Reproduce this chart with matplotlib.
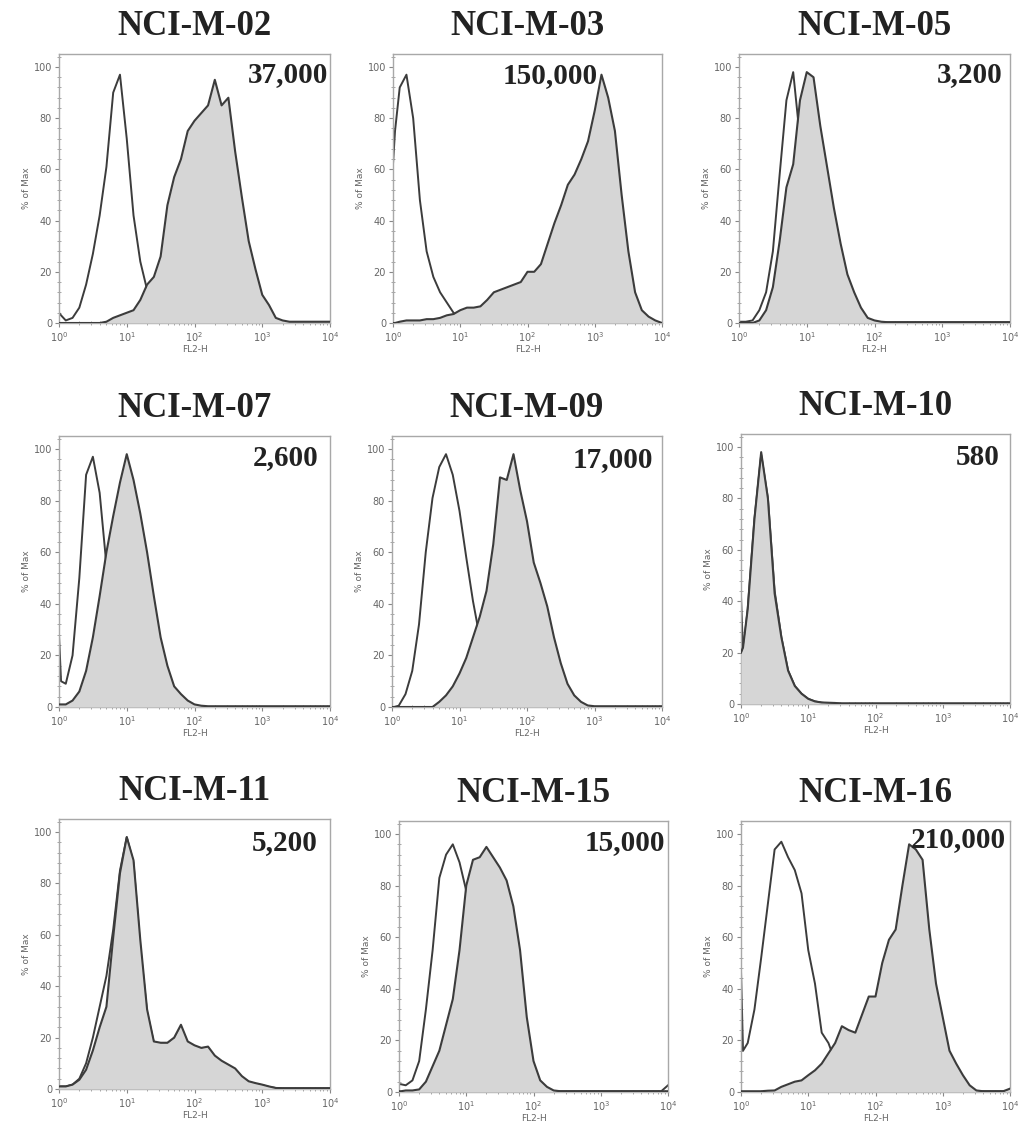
import numpy as np
import matplotlib
matplotlib.use("Agg")
import matplotlib.pyplot as plt
from matplotlib.ticker import LogLocator, AutoMinorLocator, NullFormatter

# channel positions in decades (log10 FL2-H)
decades = np.r_[0.0, 0.03, np.arange(1, 41) / 10]

samples = ["NCI-M-02", "NCI-M-03", "NCI-M-05",
           "NCI-M-07", "NCI-M-09", "NCI-M-10",
           "NCI-M-11", "NCI-M-15", "NCI-M-16"]
counts = ["37,000", "150,000", "3,200",
          "2,600", "17,000", "580",
          "5,200", "15,000", "210,000"]

# open histograms (isotype control), % of max
ctrl_02 = [4, 3, 1, 2, 6, 15, 27, 42, 61, 90, 97, 72, 42, 24, 13, 6, 2, 1,
           0, 0, 0, 0, 0, 0, 0, 0, 0, 0, 0, 0, 0, 0, 0, 0, 0, 0, 0, 0, 0, 0, 0, 0]
ctrl_03 = [62, 75, 92, 97, 80, 48, 28, 18, 12, 8, 4, 2, 1, 0.5,
           0, 0, 0, 0, 0, 0, 0, 0, 0, 0, 0, 0, 0, 0, 0, 0, 0, 0, 0, 0, 0, 0, 0, 0, 0, 0, 0, 0]
ctrl_05 = [0.5, 0.5, 0.5, 1, 5, 12, 28, 58, 87, 98, 72, 45, 25, 12, 5, 2, 0.5,
           0.3, 0.3, 0.3, 0.3, 0.3, 0.3, 0.3, 0.3, 0.3, 0.3, 0.3, 0.3, 0.3, 0.3, 0.3,
           0.3, 0.3, 0.3, 0.3, 0.3, 0.3, 0.3, 0.3, 0.3, 0.3]
ctrl_07 = [28, 10, 9, 20, 50, 90, 97, 83, 55, 35, 20, 10, 5, 2, 1,
           0, 0, 0, 0, 0, 0, 0, 0, 0, 0, 0, 0, 0, 0, 0, 0, 0, 0, 0, 0, 0, 0, 0, 0, 0, 0, 0]
ctrl_09 = [0, 0, 0.5, 5, 14, 32, 60, 81, 93, 98, 90, 76, 58, 41, 27, 15, 8, 4, 2, 1,
           0, 0, 0, 0, 0, 0, 0, 0, 0, 0, 0, 0, 0, 0, 0, 0, 0, 0, 0, 0, 0, 0]
ctrl_10 = [42, 20, 37, 72, 97, 80, 44, 26, 13, 7, 4, 2, 1, 0.5,
           0.2, 0.2, 0.2, 0.2, 0.2, 0.2, 0.2, 0.2, 0.2, 0.2, 0.2, 0.2, 0.2, 0.2,
           0.2, 0.2, 0.2, 0.2, 0.2, 0.2, 0.2, 0.2, 0.2, 0.2, 0.2, 0.2, 0.2, 0.2]
ctrl_11 = [1, 1, 1, 1.7, 4, 10, 20, 32, 44, 62, 85, 98, 88, 55, 30, 18, 17.5, 17.5,
           19, 24, 18, 16.5, 15.5, 16, 12.5, 10.5, 9, 7.5, 4.5, 2.8, 2, 1.5, 0.8, 0.4,
           0.3, 0.3, 0.3, 0.3, 0.3, 0.3, 0.3, 0.3]
ctrl_15 = [3, 3, 2.6, 4.5, 12, 32, 55, 83, 92, 96, 89, 78, 55, 32, 15, 6, 2, 0.5,
           0.3, 0.3, 0.3, 0.3, 0.3, 0.3, 0.3, 0.3, 0.3, 0.3, 0.3, 0.3, 0.3, 0.3,
           0.3, 0.3, 0.3, 0.3, 0.3, 0.3, 0.3, 0.3, 0.3, 2.6]
ctrl_16 = [47, 16, 19, 32, 52, 73, 94, 97, 91, 86, 77, 55, 42, 23, 19, 12, 7, 4, 2, 1, 0.5,
           0.3, 0.3, 0.3, 0.3, 0.3, 0.3, 0.3, 0.3, 0.3, 0.3, 0.3, 0.3, 0.3, 0.3, 0.3,
           0.3, 0.3, 0.3, 0.3, 0.3, 0.3]

# filled histograms (stained), % of max
stain_02 = [0, 0, 0, 0, 0, 0, 0, 0, 0.5, 2, 3, 4, 5, 9, 15, 18, 26, 46, 57, 64, 75, 79,
            82, 85, 95, 85, 88, 67, 49, 32, 21, 11, 7, 2, 1,
            0.5, 0.5, 0.5, 0.5, 0.5, 0.5, 0.5]
stain_03 = [0, 0, 0.5, 1, 1, 1, 1.5, 1.5, 2, 3, 3.5, 5, 6, 6, 6.5, 9, 12, 13, 14, 15, 16,
            20, 20, 23, 31, 39, 46, 54, 58, 64, 71, 83, 97, 88, 75, 50, 28, 12, 5, 2.5, 1, 0]
stain_05 = [0, 0, 0, 0, 1, 5, 14, 32, 53, 62, 87, 98, 96, 77, 61, 45, 31, 19, 12, 6, 2, 1, 0.5,
            0.3, 0.3, 0.3, 0.3, 0.3, 0.3, 0.3, 0.3, 0.3, 0.3, 0.3, 0.3, 0.3, 0.3,
            0.3, 0.3, 0.3, 0.3, 0.3]
stain_07 = [1, 1, 1, 2.5, 6, 14, 27, 43, 60, 74, 87, 98, 88, 75, 60, 43, 27, 16, 8, 5, 2.5, 1, 0.5,
            0.3, 0.3, 0.3, 0.3, 0.3, 0.3, 0.3, 0.3, 0.3, 0.3, 0.3, 0.3, 0.3, 0.3,
            0.3, 0.3, 0.3, 0.3, 0.3]
stain_09 = [0, 0, 0, 0, 0, 0, 0, 0, 2, 4.5, 8, 13, 19, 27, 35, 45, 63, 89, 88, 98, 84, 72,
            56, 48, 39, 27, 17, 9, 4.5, 2, 0.6,
            0.3, 0.3, 0.3, 0.3, 0.3, 0.3, 0.3, 0.3, 0.3, 0.3, 0.3]
stain_10 = [20, 22, 37, 72, 98, 80, 43, 26, 13, 7, 4, 2, 1, 0.6, 0.5, 0.4,
            0.2, 0.2, 0.2, 0.2, 0.2, 0.2, 0.2, 0.2, 0.2, 0.2, 0.2, 0.2, 0.2,
            0.2, 0.2, 0.2, 0.2, 0.2, 0.2, 0.2, 0.2, 0.2, 0.2, 0.2, 0.2, 0.2]
stain_11 = [1, 1, 1, 1.7, 3.6, 7.5, 15, 24, 32, 59, 84, 98, 89, 58, 31, 18.5, 18, 18,
            20, 25, 18.5, 17, 16, 16.5, 13, 11, 9.5, 8, 5, 3, 2.3, 1.7, 1, 0.4,
            0.3, 0.3, 0.3, 0.3, 0.3, 0.3, 0.3, 0.3]
stain_15 = [0.3, 0.3, 0.6, 0.6, 1, 4, 10, 16, 26, 36, 55, 80, 90, 91, 95, 91, 87, 82, 72,
            55, 29, 12, 4.5, 2, 0.6,
            0.3, 0.3, 0.3, 0.3, 0.3, 0.3, 0.3, 0.3, 0.3, 0.3, 0.3, 0.3, 0.3, 0.3,
            0.3, 0.3, 0.3]
stain_16 = [0.3, 0.3, 0.3, 0.3, 0.3, 0.5, 0.6, 2, 3, 4, 4.5, 6.5, 8.4, 11, 15, 19, 25.5,
            24, 23, 30, 37, 37, 50, 59, 63, 80, 96, 94, 90, 63, 42, 29, 16, 11, 6.5, 2.6,
            0.6, 0.3, 0.3, 0.3, 0.3, 1.3]

controls = [ctrl_02, ctrl_03, ctrl_05, ctrl_07, ctrl_09, ctrl_10, ctrl_11, ctrl_15, ctrl_16]
stained = [stain_02, stain_03, stain_05, stain_07, stain_09, stain_10, stain_11, stain_15, stain_16]

# axes boxes in pixels: left, right, y of 0, y of 100
boxes = [(59, 330, 323, 67), (393, 662, 323, 67), (739, 1010, 323, 67),
         (59, 330, 707, 449), (392, 662, 707, 449), (741, 1010, 704, 447),
         (59, 330, 1089, 832), (399, 668, 1092, 834), (741, 1010, 1092, 834)]
# count label: right edge (axes fraction), baseline (data y)
label_pos = [(0.993, 94), (0.762, 93.7), (0.974, 94),
             (0.956, 93.8), (0.967, 93), (0.963, 93),
             (0.956, 93), (0.989, 93.8), (0.985, 95)]

W, H = 1018, 1133
fig = plt.figure(figsize=(W / 100, H / 100), dpi=100)

serif = ["Liberation Serif", "DejaVu Serif"]
line_c = "#3c3c3c"
fill_c = "#d6d6d6"

x = 10 ** decades
for i in range(9):
    l, r, y0, y100 = boxes[i]
    h = (y0 - y100) * 1.05
    ax = fig.add_axes([l / W, 1 - y0 / H, (r - l) / W, h / H])

    ax.plot(x, controls[i], color=line_c, lw=1.4, zorder=2)
    ax.fill_between(x, 0, stained[i], color=fill_c, lw=0, zorder=3)
    ax.plot(x, stained[i], color=line_c, lw=1.5, zorder=4)

    ax.set_xscale("log")
    ax.set_xlim(1, 1e4)
    ax.set_ylim(0, 105)
    ax.set_yticks([0, 20, 40, 60, 80, 100])
    ax.yaxis.set_minor_locator(AutoMinorLocator(5))
    ax.xaxis.set_major_locator(LogLocator(base=10, numticks=10))
    ax.xaxis.set_minor_locator(LogLocator(base=10, subs=np.arange(2, 10), numticks=10))
    ax.xaxis.set_minor_formatter(NullFormatter())
    ax.tick_params(which="major", direction="out", length=3, width=0.8,
                   color="#888888", labelsize=7, labelcolor="#666666", pad=2)
    ax.tick_params(which="minor", direction="inout", length=3, width=0.6, color="#999999")
    for s in ax.spines.values():
        s.set_color("#a8a8a8")
        s.set_linewidth(1.0)

    ax.set_xlabel("FL2-H", fontsize=6.5, color="#666666", labelpad=1)
    ax.set_ylabel("% of Max", fontsize=6.5, color="#666666", labelpad=2)
    ax.set_title(samples[i], fontsize=25, fontweight="bold", family=serif,
                 color="#222222", pad=14)

    tx, ty = label_pos[i]
    ax.text(tx, ty, counts[i], transform=ax.get_yaxis_transform(),
            ha="right", va="baseline", fontsize=21, fontweight="bold",
            family=serif, color="#222222", zorder=6)

fig.savefig("out.png", dpi=100)
